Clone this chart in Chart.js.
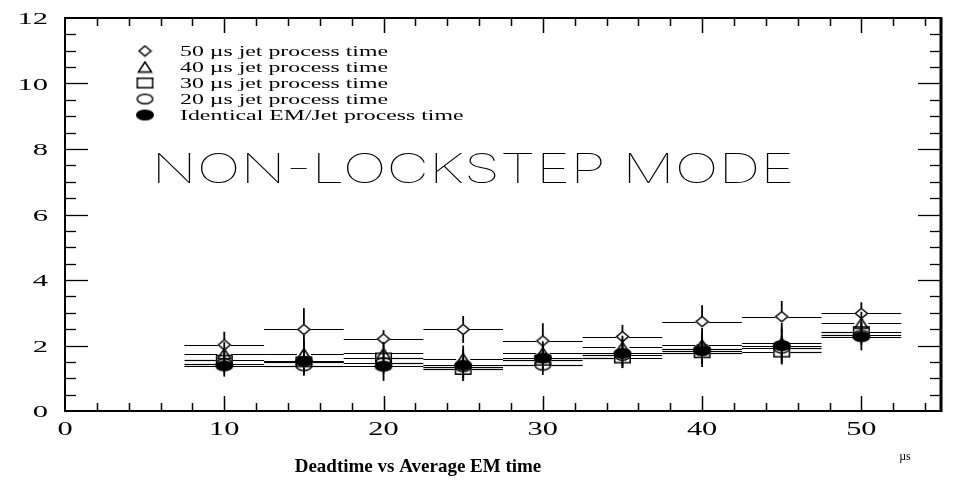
<!DOCTYPE html>
<html>
<head>
<meta charset="utf-8">
<script src="https://cdn.jsdelivr.net/npm/chart.js@4/dist/chart.umd.min.js"></script>
<style>
  html, body { margin: 0; padding: 0; background: #fff; }
  #wrap { width: 955px; height: 480px; position: relative; }
</style>
</head>
<body>
<div id="wrap"><canvas id="c"></canvas></div>
<script>
// Average EM processing time (µs) — bin centres and half widths
const emTimes      = [10, 15, 20, 25, 30, 35, 40, 45, 50];
const emHalfWidth  = [2.5, 2.5, 2.5, 2.5, 2.5, 2.5, 2.5, 2.5, 2.5];

// Deadtime (%) for each jet processing time, with uncertainties
const jet50     = [2.02, 2.49, 2.20, 2.49, 2.14, 2.27, 2.73, 2.88, 2.98];
const jet50Err  = [0.40, 0.65, 0.27, 0.41, 0.54, 0.36, 0.50, 0.48, 0.34];
const jet40     = [1.75, 1.75, 1.76, 1.60, 1.78, 1.95, 2.02, 2.08, 2.68];
const jet40Err  = [0.35, 0.40, 0.35, 0.40, 0.35, 0.35, 0.40, 0.40, 0.35];
const jet30     = [1.55, 1.50, 1.62, 1.27, 1.55, 1.62, 1.78, 1.80, 2.42];
const jet30Err  = [0.30, 0.35, 0.30, 0.35, 0.30, 0.30, 0.35, 0.38, 0.30];
const jet20     = [1.45, 1.38, 1.48, 1.35, 1.40, 1.70, 1.90, 1.92, 2.32];
const jet20Err  = [0.30, 0.30, 0.35, 0.30, 0.30, 0.30, 0.30, 0.35, 0.30];
const identical    = [1.38, 1.52, 1.37, 1.40, 1.62, 1.76, 1.84, 2.00, 2.27];
const identicalErr = [0.33, 0.38, 0.45, 0.48, 0.40, 0.45, 0.50, 0.55, 0.42];

const seriesLabels = [
  '50 \u00b5s jet process time',
  '40 \u00b5s jet process time',
  '30 \u00b5s jet process time',
  '20 \u00b5s jet process time',
  'Identical EM/Jet process time'
];

const xTickLabels = ['0', '10', '20', '30', '40', '50'];
const yTickLabels = ['0', '2', '4', '6', '8', '10', '12'];

const modeText  = 'NON-LOCKSTEP MODE';
const axisTitle = 'Deadtime vs Average EM time';
const unitText  = '\u00b5s';

// ---- marker images (wide, flattened symbols) ----
function makeMarker(w, h, draw) {
  const c = document.createElement('canvas');
  c.width = w + 2; c.height = h + 2;
  const g = c.getContext('2d');
  g.translate(1, 1);
  g.lineWidth = 1.5;
  g.strokeStyle = '#000';
  g.fillStyle = '#000';
  draw(g, w, h);
  return c;
}
const mDiamond = makeMarker(13, 11, (g, w, h) => {
  g.beginPath(); g.moveTo(w / 2, 0.5); g.lineTo(w - 0.5, h / 2); g.lineTo(w / 2, h - 0.5); g.lineTo(0.5, h / 2); g.closePath(); g.stroke();
});
const mTriangle = makeMarker(14, 11, (g, w, h) => {
  g.beginPath(); g.moveTo(w / 2, 0.5); g.lineTo(w - 0.5, h - 0.5); g.lineTo(0.5, h - 0.5); g.closePath(); g.stroke();
});
const mSquare = makeMarker(17, 11, (g, w, h) => {
  g.strokeRect(0.75, 0.75, w - 1.5, h - 1.5);
});
const mCircle = makeMarker(17, 11, (g, w, h) => {
  g.beginPath(); g.ellipse(w / 2, h / 2, w / 2 - 0.75, h / 2 - 0.75, 0, 0, Math.PI * 2); g.stroke();
});
const mFilled = makeMarker(18, 11, (g, w, h) => {
  g.beginPath(); g.ellipse(w / 2, h / 2, w / 2, h / 2, 0, 0, Math.PI * 2); g.fill();
});

function pts(vals) { return emTimes.map((t, i) => ({ x: t, y: vals[i] })); }

const series = [
  { label: seriesLabels[0], data: pts(jet50),     err: jet50Err,     marker: mDiamond,  order: 1 },
  { label: seriesLabels[1], data: pts(jet40),     err: jet40Err,     marker: mTriangle, order: 2 },
  { label: seriesLabels[2], data: pts(jet30),     err: jet30Err,     marker: mSquare,   order: 3 },
  { label: seriesLabels[3], data: pts(jet20),     err: jet20Err,     marker: mCircle,   order: 4 },
  { label: seriesLabels[4], data: pts(identical), err: identicalErr, marker: mFilled,   order: 0 }
];

// text drawn with a horizontal stretch
function wideText(ctx, txt, x, y, sx, align) {
  ctx.save();
  ctx.translate(x, y);
  ctx.scale(sx, 1);
  ctx.textAlign = align;
  ctx.fillText(txt, 0, 0);
  ctx.restore();
}
function seg(ctx, x1, y1, x2, y2) {
  ctx.beginPath(); ctx.moveTo(x1, y1); ctx.lineTo(x2, y2); ctx.stroke();
}

// error bars with a gap around each series' own marker
const errorBars = {
  id: 'errorBars',
  beforeDatasetsDraw(chart) {
    const { ctx, scales: { x, y } } = chart;
    ctx.save();
    ctx.strokeStyle = '#000';
    chart.data.datasets.forEach((ds) => {
      const hw = ds.pointStyle.width / 2 - 1;
      const hh = ds.pointStyle.height / 2 - 1;
      const filled = ds.pointStyle === mFilled;
      ds.data.forEach((p, i) => {
        const px = x.getPixelForValue(p.x);
        const py = Math.round(y.getPixelForValue(p.y)) + 0.5;
        const xl = x.getPixelForValue(p.x - emHalfWidth[i]);
        const xr = x.getPixelForValue(p.x + emHalfWidth[i]);
        ctx.lineWidth = 1.2;
        seg(ctx, xl, py, px - (filled ? 0 : hw), py);
        seg(ctx, px + (filled ? 0 : hw), py, xr, py);
        const yt = y.getPixelForValue(p.y + ds.errY[i]);
        const yb = y.getPixelForValue(p.y - ds.errY[i]);
        ctx.lineWidth = 1.8;
        seg(ctx, px, yt, px, py - (filled ? 0 : hh));
        seg(ctx, px, py + (filled ? 0 : hh), px, yb);
      });
    });
    ctx.restore();
  }
};

// frame, ticks, labels, legend and captions
const frame = {
  id: 'frame',
  afterDraw(chart) {
    const { ctx, chartArea: a, scales: { x, y } } = chart;
    ctx.save();
    ctx.strokeStyle = '#000';
    ctx.fillStyle = '#000';

    // x ticks (top and bottom)
    ctx.lineWidth = 1.5;
    for (let v = 2; v < x.max; v += 2) {
      const px = Math.round(x.getPixelForValue(v)) + 0.5;
      const len = v % 10 === 0 ? 15 : 8;
      seg(ctx, px, a.bottom, px, a.bottom - len);
      seg(ctx, px, a.top, px, a.top + len);
    }
    // y ticks (left and right)
    ctx.lineWidth = 1.3;
    for (let v = 0.5; v < y.max; v += 0.5) {
      const py = Math.round(y.getPixelForValue(v)) + 0.5;
      const len = v % 2 === 0 ? 23 : 11;
      seg(ctx, a.left, py, a.left + len, py);
      seg(ctx, a.right, py, a.right - len, py);
    }
    // box
    ctx.lineWidth = 2;
    seg(ctx, a.left, a.top, a.right, a.top);
    seg(ctx, a.left - 1, a.bottom, a.right + 1, a.bottom);
    seg(ctx, a.left, a.top - 1, a.left, a.bottom + 1);
    ctx.lineWidth = 3;
    seg(ctx, a.right, a.top - 1, a.right, a.bottom + 1);

    // tick labels
    ctx.font = '17px "Liberation Serif", "Times New Roman", serif';
    ctx.textBaseline = 'middle';
    yTickLabels.forEach((t) => {
      wideText(ctx, t, a.left - 17, y.getPixelForValue(Number(t)) + 2, 1.8, 'right');
    });
    ctx.font = '19px "Liberation Serif", "Times New Roman", serif';
    xTickLabels.forEach((t) => {
      wideText(ctx, t, x.getPixelForValue(Number(t)), a.bottom + 19, 1.6, 'center');
    });

    // legend
    ctx.font = '14px "Liberation Serif", "Times New Roman", serif';
    const rows = [51, 67, 83, 99, 115];
    chart.data.datasets.forEach((ds, i) => {
      const m = ds.pointStyle;
      ctx.drawImage(m, 145 - m.width / 2, rows[i] - m.height / 2);
      wideText(ctx, ds.label, 180, rows[i] + 1, 1.7, 'left');
    });

    // mode caption
    ctx.font = '100 41px Inter, "DejaVu Sans", sans-serif';
    wideText(ctx, modeText, 473, 171, 1.43, 'center');

    // axis caption and unit
    ctx.font = 'bold 19px "Liberation Serif", "Times New Roman", serif';
    wideText(ctx, axisTitle, 418, 467, 1.0, 'center');
    ctx.font = '12px "Liberation Serif", "Times New Roman", serif';
    wideText(ctx, unitText, 905, 457, 1.0, 'center');
    ctx.restore();
  }
};

new Chart(document.getElementById('c'), {
  type: 'scatter',
  data: {
    datasets: series.map((s) => ({
      label: s.label,
      data: s.data,
      errY: s.err,
      pointStyle: s.marker,
      pointRadius: 6,
      showLine: false,
      order: s.order
    }))
  },
  options: {
    responsive: true,
    maintainAspectRatio: false,
    animation: false,
    events: [],
    layout: { padding: { left: 65, top: 18, right: 14, bottom: 69 } },
    scales: {
      x: { type: 'linear', min: 0, max: 55, display: false },
      y: { type: 'linear', min: 0, max: 12, display: false }
    },
    plugins: { legend: { display: false }, tooltip: { enabled: false } }
  },
  plugins: [errorBars, frame]
});
</script>
</body>
</html>
